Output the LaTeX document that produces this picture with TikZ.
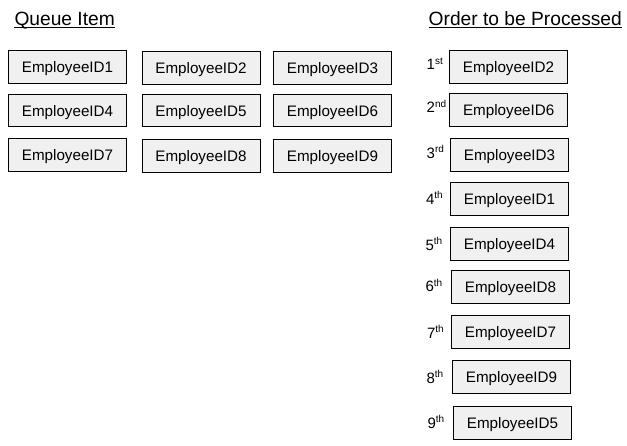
\documentclass[tikz,border=0pt]{standalone}
\usepackage{fontspec}
\setmainfont{Liberation Sans}
\newcommand\ordlabel[2]{#1\raisebox{5.5pt}{\fontsize{10}{11}\selectfont #2}}
\begin{document}
\begin{tikzpicture}[x=1pt,y=-1pt,
  idbox/.style={draw=black,line width=1pt,fill=boxgray,minimum width=118pt,minimum height=32.5pt,inner sep=0pt,text height=11pt,text depth=0pt,font=\fontsize{15.2}{18}\selectfont},
  title/.style={anchor=base west,inner sep=0pt,font=\fontsize{19.2}{22}\selectfont},
  ordl/.style={anchor=base west,inner sep=0pt,font=\fontsize{15}{18}\selectfont}]
\definecolor{boxgray}{HTML}{F0F0F0}
\useasboundingbox (0,0) rectangle (627,445);
% titles
\node[title] (tq) at (14.3,25.7) {Queue Item};
\draw[line width=1pt] ([yshift=-1.8pt]tq.base west) -- ([yshift=-1.8pt]tq.base east);
\node[title] (to) at (428.5,25.7) {Order to be Processed};
\draw[line width=1pt] ([yshift=-1.8pt]to.base west) -- ([yshift=-1.8pt]to.base east);
% queue items
\node[idbox] (e1) at (67.5,67) {EmployeeID1};
\node[idbox] (e2) at (201,68) {EmployeeID2};
\node[idbox] (e3) at (332.5,68) {EmployeeID3};
\node[idbox] (e4) at (67.5,110.5) {EmployeeID4};
\node[idbox] (e5) at (201,110.5) {EmployeeID5};
\node[idbox] (e6) at (332.5,110.5) {EmployeeID6};
\node[idbox] (e7) at (67.5,155) {EmployeeID7};
\node[idbox] (e8) at (201,156) {EmployeeID8};
\node[idbox] (e9) at (332.5,156) {EmployeeID9};
% processing order
\node[idbox] (r1) at (508.5,67) {EmployeeID2};
\node[idbox] (r2) at (508.7,110.2) {EmployeeID6};
\node[idbox] (r3) at (509.5,155.2) {EmployeeID3};
\node[idbox] (r4) at (509.5,199) {EmployeeID1};
\node[idbox] (r5) at (509.5,244) {EmployeeID4};
\node[idbox] (r6) at (510.5,287) {EmployeeID8};
\node[idbox] (r7) at (510.5,331.8) {EmployeeID7};
\node[idbox] (r8) at (511.5,376.8) {EmployeeID9};
\node[idbox] (r9) at (512.5,422.8) {EmployeeID5};
% ordinals
\node[ordl] (o1) at (426.5,69.5) {\ordlabel{1}{st}};
\node[ordl] (o2) at (426.5,112.7) {\ordlabel{2}{nd}};
\node[ordl] (o3) at (426.5,158) {\ordlabel{3}{rd}};
\node[ordl] (o4) at (425.8,204) {\ordlabel{4}{th}};
\node[ordl] (o5) at (425.3,250) {\ordlabel{5}{th}};
\node[ordl] (o6) at (425.3,291.7) {\ordlabel{6}{th}};
\node[ordl] (o7) at (426.8,338.3) {\ordlabel{7}{th}};
\node[ordl] (o8) at (426.3,383.3) {\ordlabel{8}{th}};
\node[ordl] (o9) at (427.3,428.3) {\ordlabel{9}{th}};
\end{tikzpicture}
\end{document}
